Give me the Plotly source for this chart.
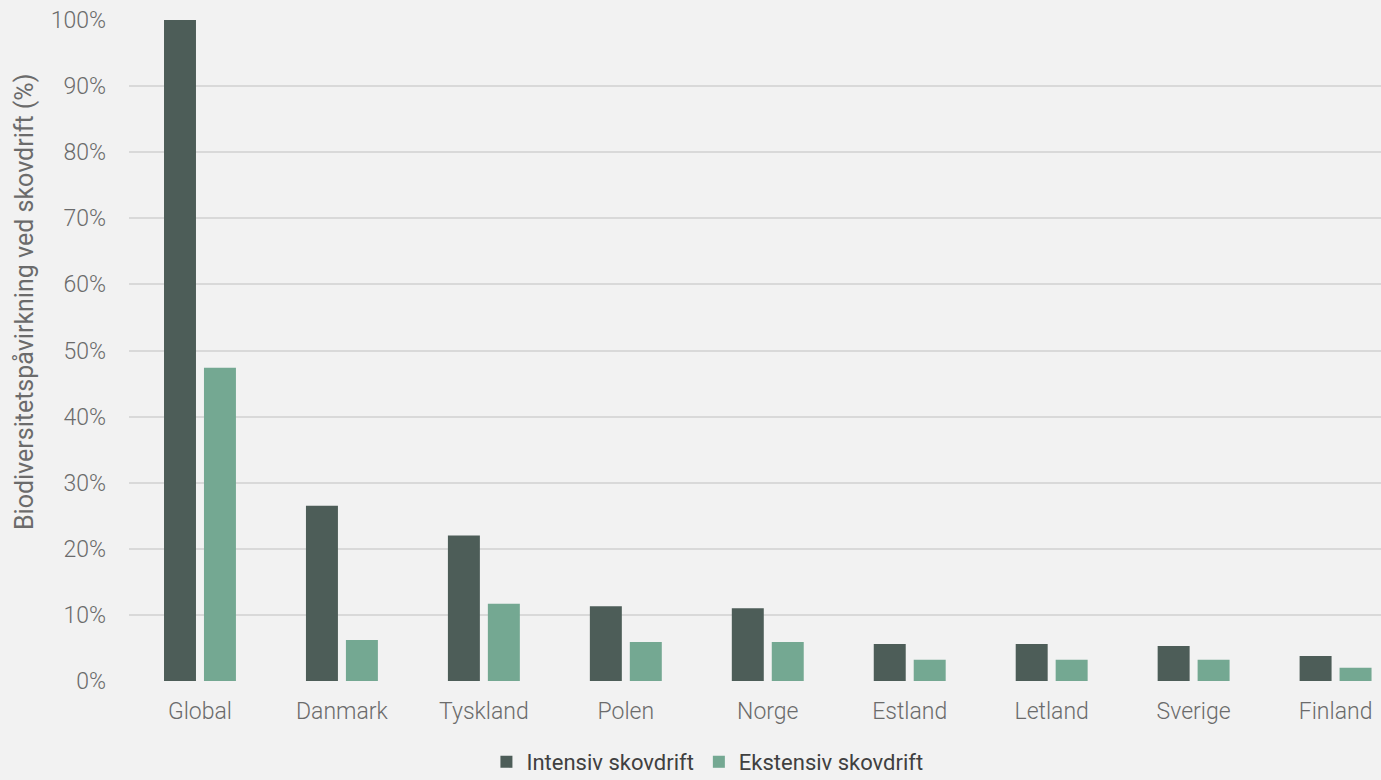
import plotly.graph_objects as go

categories = ["Global", "Danmark", "Tyskland", "Polen", "Norge", "Estland", "Letland", "Sverige", "Finland"]
intensiv = [100.0, 26.5, 22.0, 11.3, 11.0, 5.6, 5.6, 5.3, 3.8]
ekstensiv = [47.4, 6.2, 11.7, 5.9, 5.9, 3.2, 3.2, 3.2, 2.0]
series_names = ["Intensiv skovdrift", "Ekstensiv skovdrift"]
y_ticks = [0, 10, 20, 30, 40, 50, 60, 70, 80, 90, 100]
y_tick_labels = [f"{v}%" for v in y_ticks]
y_title = "Biodiversitetspåvirkning ved skovdrift (%)"

BG = "#f2f2f2"
C_INT = "#4d5d58"
C_EXT = "#74a892"
TXT = "#6b6b6b"

fig = go.Figure()
fig.add_trace(go.Bar(x=list(range(len(categories))), y=intensiv, name=series_names[0],
                     marker=dict(color=C_INT, line=dict(width=0))))
fig.add_trace(go.Bar(x=list(range(len(categories))), y=ekstensiv, name=series_names[1],
                     marker=dict(color=C_EXT, line=dict(width=0))))

fig.update_layout(
    width=1381, height=780,
    paper_bgcolor=BG, plot_bgcolor=BG,
    margin=dict(l=129, r=0, t=20, b=99, autoexpand=False),
    barmode="group", bargap=0.437, bargroupgap=0.2,
    font=dict(family="Roboto", color=TXT, size=23, weight=300),
    showlegend=True,
    legend=dict(orientation="h", x=0.462, xanchor="center",
                yref="container", y=(780 - 762) / 780, yanchor="middle",
                font=dict(size=22, color="#404040", weight=400), bgcolor="rgba(0,0,0,0)",
                itemwidth=30, traceorder="normal"),
    xaxis=dict(tickmode="array", tickvals=list(range(len(categories))), ticktext=categories,
               range=[-0.5, 8.32], showgrid=False, zeroline=False, showline=False,
               automargin=False,
               ticks="", ticklabelstandoff=14, tickfont=dict(size=23, color=TXT, weight=300)),
    yaxis=dict(range=[0, 100], tickmode="array", tickvals=y_ticks, ticktext=y_tick_labels,
               showgrid=True, gridcolor="#d9d9d9", gridwidth=1.5, zeroline=False,
               automargin=False,
               showline=False, ticks="", ticklabelstandoff=22,
               tickfont=dict(size=23, color=TXT, weight=300)),
    annotations=[dict(text=y_title, textangle=-90, xref="paper", yref="paper",
                      x=(25 - 129) / 1252, y=(681 - 302) / 661, xanchor="center", yanchor="middle",
                      showarrow=False, font=dict(size=25, color=TXT, weight=400))],
)

fig.write_html("out.html")
